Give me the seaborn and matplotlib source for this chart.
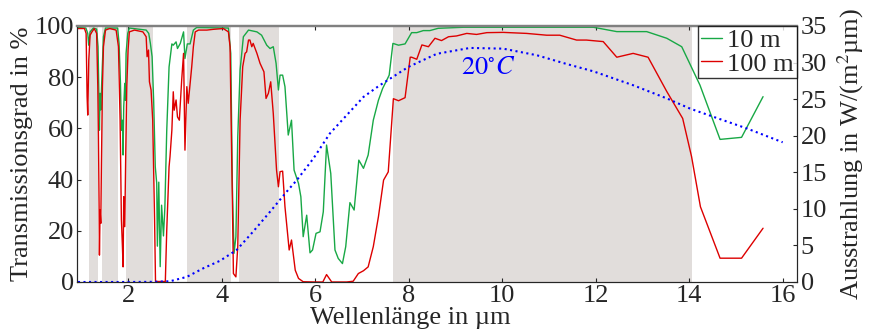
import numpy as np
import pandas as pd
import seaborn as sns
import matplotlib.pyplot as plt

# Transmission 10 m path (green)
wl_10 = [0.92, 1.09, 1.13, 1.15, 1.18, 1.25, 1.32, 1.35, 1.366, 1.38, 1.394, 1.41, 1.423, 1.444,
         1.466, 1.51, 1.77, 1.80, 1.83, 1.85, 1.872, 1.886, 1.90, 1.922, 1.936, 1.95, 1.986, 2.02,
         2.38, 2.435, 2.47, 2.507, 2.54, 2.575, 2.606, 2.62, 2.65, 2.68, 2.71, 2.75, 2.78, 2.82,
         2.87, 2.93, 2.96, 3.02, 3.05, 3.11, 3.18, 3.21, 3.26, 3.32, 3.39, 3.46, 4.14, 4.19, 4.225,
         4.26, 4.30, 4.34, 4.39, 4.46, 4.57, 4.75, 4.85, 4.96, 5.03, 5.10, 5.16, 5.21, 5.245, 5.30,
         5.35, 5.42, 5.49, 5.545, 5.64, 5.69, 5.74, 5.815, 5.886, 5.94, 6.015, 6.10, 6.17, 6.24,
         6.33, 6.42, 6.49, 6.58, 6.65, 6.74, 6.83, 6.93, 7.03, 7.13, 7.24, 7.35, 7.44, 7.53, 7.58,
         7.66, 7.78, 7.92, 8.06, 8.17, 8.31, 8.45, 8.63, 9.17, 11.95, 12.45, 13.09, 13.52, 13.84,
         14.23, 14.66, 15.12, 15.58]
t_10 = [99.4, 99.2, 97.1, 92.5, 97.7, 99.2, 98.8, 91.9, 76.3, 59.3, 73.7, 67.2, 75, 85.4,
        95.8, 99.2, 99.2, 93.2, 77.6, 59.3, 63.2, 49.6, 68.4, 77.6, 71, 89.3, 97.1, 99.2,
        98.4, 97.1, 93.2, 88, 71, 45, 38.5, 14, 39, 6, 30, 18, 29, 59,
        84, 93, 92.5, 93.8, 91.2, 93.2, 97.7, 87.3, 93, 93, 98.4, 99.4, 99.2, 89.3, 37.2,
        11.2, 17.7, 56.7, 82.8, 95.8, 98.4, 97.7, 96.4, 92.5, 91.2, 91.9, 85.4, 75, 80.8, 80.8,
        76.3, 57.4, 63.2, 43.7, 38.5, 33.3, 17.7, 26.1, 11.4, 12.5, 19, 19.6, 27.4, 53.5,
        42.4, 12.5, 9.2, 7.2, 13.8, 31, 28.1, 47.6, 44.4, 49.6, 63.2, 71, 75.6, 78.9, 80.8,
        93.2, 92.5, 93.0, 97.4, 97.4, 98.2, 98.2, 99.1, 99.5, 99.5, 97.8, 97.8, 95.2, 91.9,
        76.9, 55.7, 56.5, 72.4]

# Transmission 100 m path (red)
wl_100 = [0.92, 1.06, 1.095, 1.116, 1.13, 1.152, 1.18, 1.22, 1.27, 1.32, 1.345, 1.359, 1.373,
          1.38, 1.394, 1.409, 1.423, 1.444, 1.466, 1.51, 1.6, 1.737, 1.787, 1.822, 1.85, 1.872,
          1.886, 1.90, 1.922, 1.943, 1.965, 1.993, 2.02, 2.13, 2.31, 2.38, 2.40, 2.43, 2.45,
          2.485, 2.52, 2.56, 2.58, 2.79, 2.82, 2.87, 2.89, 2.93, 2.96, 2.98, 3.02, 3.05, 3.09,
          3.14, 3.18, 3.21, 3.25, 3.28, 3.32, 3.355, 3.39, 3.43, 3.50, 3.68, 3.82, 4.03, 4.14,
          4.175, 4.21, 4.247, 4.30, 4.34, 4.39, 4.446, 4.496, 4.53, 4.57, 4.60, 4.64, 4.67, 4.75,
          4.817, 4.90, 4.945, 4.995, 5.045, 5.10, 5.17, 5.21, 5.245, 5.30, 5.35, 5.44, 5.49, 5.57,
          5.64, 5.74, 5.99, 6.16, 6.24, 6.35, 6.67, 6.81, 6.92, 7.03, 7.13, 7.24, 7.35, 7.46,
          7.56, 7.67, 7.78, 7.92, 8.03, 8.06, 8.17, 8.28, 8.42, 8.56, 8.70, 8.85, 9.02, 9.24,
          9.45, 9.67, 10.02, 10.52, 10.95, 11.23, 11.59, 11.8, 12.16, 12.45, 12.8, 13.12, 13.52,
          13.86, 14.05, 14.24, 14.66, 15.12, 15.58]
t_100 = [99, 99, 97.1, 72.4, 65.2, 86.7, 96.4, 97.7, 99, 97.1, 76.3, 56.7, 29.4,
         10.5, 28.1, 22.9, 46.3, 76.3, 91.9, 98.4, 99, 98.4, 91.9, 63.2, 24.2, 13.8,
         5.9, 33.3, 21.6, 50.2, 76.3, 90.6, 97.7, 98.4, 97.7, 95.8, 88, 90.6, 78.2,
         75, 63.2, 24.2, 0.2, 0.2, 20, 45, 48.9, 59.3, 74.3, 67.1, 71.1, 64.5, 63.2,
         78.9, 89.3, 51.5, 76.3, 69.8, 77.6, 84.1, 91.9, 97.7, 98.4, 98.4, 98.7, 99.0, 97.7,
         91.9, 50.2, 3.3, 2.0, 13.8, 63.2, 84.1, 89.3, 89.9, 94.5, 94.5, 91.9, 93.2, 89.3,
         85.4, 82.1, 71.7, 73.7, 78.2, 65.8, 43.7, 37.2, 43.1, 43.3, 29.4, 12.5, 16.4, 4.6,
         1.4, 0.1, 0, 0, 2.9, 0, 0, 0.3, 3.3, 4.4, 5.9, 13.8, 25.5, 39.8,
         43, 71.6, 70.8, 72, 87.8, 87.8, 87, 92.6, 91.9, 95.2, 94.3, 95.8, 96.1, 97.1,
         96.7, 97.4, 97.5, 97.1, 96.4, 96.4, 94.5, 94.5, 93.9, 87.8, 89.3, 87.8, 74.4,
         63.9, 49, 29.4, 9.3, 9.3, 21]

# Blackbody emission at 20 C (right axis)
wl_bb = [0.92, 2.0, 2.5, 2.89, 3.25, 3.61, 3.96, 4.32, 4.67, 5.03, 5.42, 5.6, 5.96, 6.31, 6.67,
         7.03, 7.38, 7.99, 8.6, 9.31, 10.02, 10.74, 11.38, 11.95, 12.8, 13.52, 14.02, 14.51,
         15.23, 16.0]
m_bb = [0, 0, 0.02, 0.1, 0.7, 1.9, 2.9, 4.4, 6.9, 9.6, 12.6, 13.9, 16.9, 20.3, 22.8,
        25.3, 26.9, 29.4, 31.2, 32.0, 31.9, 31.0, 29.8, 28.8, 26.9, 25.1, 23.7, 22.6,
        21.0, 19.1]

# atmospheric windows (shaded)
windows = [(1.15, 1.35), (1.44, 1.78), (1.95, 2.52), (3.25, 4.20), (4.37, 5.22), (7.67, 14.05)]

sns.set_style("ticks")
plt.rcParams['font.family'] = ['Liberation Serif', 'DejaVu Serif']
plt.rcParams['mathtext.fontset'] = 'stix'
fs = 19

fig = plt.figure(figsize=(8.78, 3.34), dpi=100)
ax = fig.add_axes([0.0877, 0.1557, 0.8197, 0.7665])

for a, b in windows:
    ax.axvspan(a, b, color='#e1dddb', lw=0, zorder=0)

df10 = pd.DataFrame({'wl': wl_10, 't': t_10})
df100 = pd.DataFrame({'wl': wl_100, 't': t_100})
sns.lineplot(data=df10, x='wl', y='t', ax=ax, color='#18a845', lw=1.0, label='10 m')
sns.lineplot(data=df100, x='wl', y='t', ax=ax, color='#dd0000', lw=1.0, label='100 m')

ax.set_xlim(0.9, 16.3)
ax.set_ylim(0, 100)
ax.set_xticks(range(2, 17, 2))
ax.set_yticks(range(0, 101, 20))
ax.tick_params(direction='in', top=True, labelsize=fs, length=3, pad=2)
ax.set_xlabel('Wellenlänge in µm', fontsize=fs)
ax.xaxis.set_label_coords(0.463, -0.098)
ax.set_ylabel('Transmissionsgrad in %', fontsize=fs, labelpad=1)
ax.spines['top'].set_color('#808080')
ax.spines['top'].set_linewidth(1.6)

ax2 = ax.twinx()
dfbb = pd.DataFrame({'wl': wl_bb, 'm': m_bb})
sns.lineplot(data=dfbb, x='wl', y='m', ax=ax2, color='blue', lw=1.5, linestyle=':', legend=False)
ax2.set_ylim(0, 35)
ax2.set_yticks(range(0, 36, 5))
ax2.tick_params(direction='in', labelsize=fs, length=3, pad=3)
ax2.set_ylabel(r'Ausstrahlung in W/(m$^2$µm)', fontsize=fs, labelpad=6)
ax2.spines['top'].set_color('#808080')
ax2.spines['top'].set_linewidth(1.6)

ax.text(9.7, 83.5, r'$20^{\circ}C$', color='blue', fontsize=fs, ha='center', va='center')

h, l = ax.get_legend_handles_labels()
ax.get_legend().remove()
leg = ax2.legend(h, l, loc='upper right', fontsize=fs, frameon=True, fancybox=False,
                 borderaxespad=0, borderpad=0.1, handlelength=0.8, handletextpad=0.2,
                 labelspacing=0.0)
leg.get_frame().set_edgecolor('black')
leg.get_frame().set_linewidth(1.0)

fig.savefig('out.png', dpi=100)
